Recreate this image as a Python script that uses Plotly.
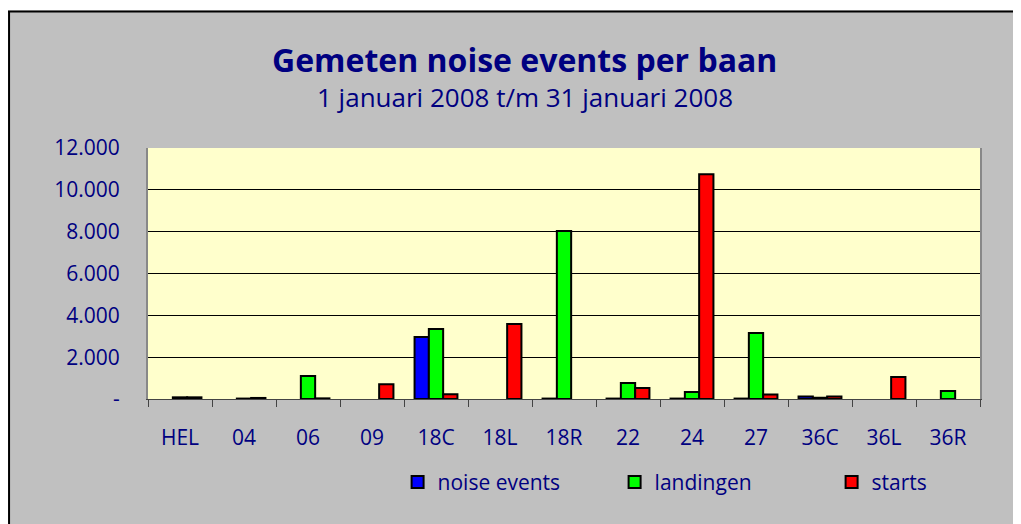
import plotly.graph_objects as go

categories = ["HEL", "04", "06", "09", "18C", "18L", "18R", "22", "24", "27", "36C", "36L", "36R"]
noise_events = [None, None, None, None, 2960, None, 20, 20, 20, 20, 120, None, None]
landingen = [80, 20, 1100, None, 3350, None, 8030, 760, 330, 3150, 60, None, 380]
starts = [80, 50, 30, 700, 230, 3590, None, 530, 10750, 220, 120, 1050, None]

y_tickvals = [0, 2000, 4000, 6000, 8000, 10000, 12000]
y_ticktext = ["-", "2.000", "4.000", "6.000", "8.000", "10.000", "12.000"]

navy = "#000080"
font_family = "Open Sans"

fig = go.Figure()
for name, vals, color in [("noise events", noise_events, "#0000FF"),
                          ("landingen", landingen, "#00FF00"),
                          ("starts", starts, "#FF0000")]:
    fig.add_trace(go.Bar(x=categories, y=vals, name=name,
                         marker=dict(color=color, line=dict(color="black", width=2))))

fig.update_layout(
    width=1021, height=524,
    margin=dict(l=140, r=49, t=140, b=133, autoexpand=False),
    paper_bgcolor="#C0C0C0",
    plot_bgcolor="#FFFFCC",
    barmode="group", bargap=0.33, bargroupgap=0,
    font=dict(family=font_family, color=navy, size=21),
    showlegend=True,
    legend=dict(orientation="h", x=0.3, y=-0.25, xanchor="left", yanchor="top",
                font=dict(size=21, color=navy), bgcolor="rgba(0,0,0,0)",
                entrywidth=172, entrywidthmode="pixels", itemwidth=30),
    xaxis=dict(type="category", tickson="boundaries", ticks="outside", ticklen=7,
               tickcolor="#444", showgrid=False, showline=True, linecolor="#444",
               linewidth=1, tickfont=dict(size=21, color=navy), ticklabelstandoff=20),
    yaxis=dict(range=[0, 12000], tickvals=y_tickvals, ticktext=y_ticktext,
               showgrid=True, gridcolor="black", gridwidth=1, zeroline=False,
               showline=True, linecolor="#888", linewidth=2, mirror=True,
               ticks="outside", ticklen=22, tickcolor="rgba(0,0,0,0)",
               tickfont=dict(size=21, color=navy)),
    annotations=[
        dict(text="<b>Gemeten noise events per baan</b>", xref="paper", yref="paper",
             x=0.453, y=1.351, xanchor="center", yanchor="middle", showarrow=False,
             font=dict(size=32, color=navy, family=font_family)),
        dict(text="1 januari 2008 t/m 31 januari 2008", xref="paper", yref="paper",
             x=0.453, y=1.203, xanchor="center", yanchor="middle", showarrow=False,
             font=dict(size=26, color=navy, family=font_family)),
    ],
    shapes=[
        dict(type="rect", xref="paper", yref="paper", x0=-0.3, x1=1.2, y0=1.548, y1=2.0,
             fillcolor="white", line=dict(width=0), layer="above"),
        dict(type="line", xref="paper", yref="paper", x0=-0.169, x1=1.2, y0=1.544, y1=1.544,
             line=dict(color="black", width=2), layer="above"),
        dict(type="line", xref="paper", yref="paper", x0=-0.167, x1=-0.167, y0=-1.0, y1=1.544,
             line=dict(color="black", width=2), layer="above"),
    ],
)

fig.write_html("out.html")
